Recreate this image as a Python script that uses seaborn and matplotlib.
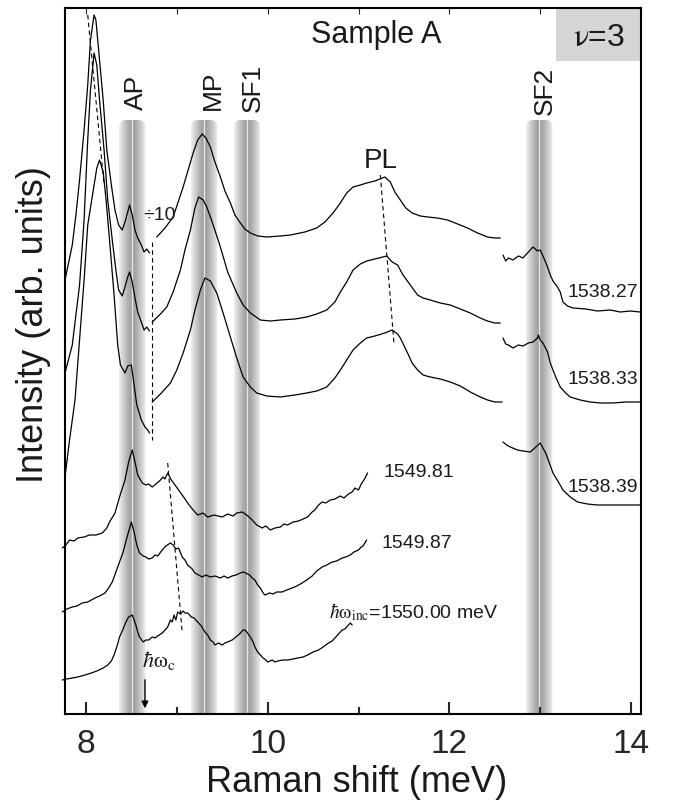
import numpy as np
import matplotlib
matplotlib.use("Agg")
import matplotlib.pyplot as plt
from matplotlib.patches import FancyBboxPatch, Rectangle
import seaborn as sns

# ── data: x = Raman shift (meV), y = intensity (arb. units, traces offset) ──

# resonant spectra (1538.xx meV): laser tail, MP/PL part (divided by 10), SF2 part
S1_LASER_X = [7.77, 7.85, 7.89, 7.93, 7.98, 8.02, 8.05, 8.09, 8.11, 8.14, 8.19, 8.23, 8.28, 8.32,
              8.36, 8.40, 8.43, 8.46, 8.48, 8.51, 8.54, 8.57, 8.61, 8.64, 8.67, 8.70]
S1_LASER_Y = [43.4, 46.9, 49.9, 53.4, 58.4, 62.9, 67.4, 69.9, 69.4, 66.4, 61.4, 56.4, 52.9, 50.4,
              48.9, 48.4, 49.2, 50.2, 50.9, 49.9, 48.4, 47.6, 46.9, 46.2, 46.5, 46.1]
S2_LASER_X = [7.77, 7.85, 7.89, 7.93, 7.98, 8.02, 8.05, 8.09, 8.12, 8.15, 8.20, 8.24, 8.29, 8.33,
              8.36, 8.40, 8.43, 8.46, 8.48, 8.51, 8.54, 8.57, 8.61, 8.64, 8.67, 8.70]
S2_LASER_Y = [34.1, 36.9, 39.9, 42.9, 49.4, 57.4, 62.4, 66.1, 64.9, 61.4, 56.4, 51.4, 47.4, 44.4,
              42.4, 41.8, 42.7, 43.7, 44.2, 43.2, 41.6, 40.2, 39.2, 38.4, 38.7, 38.3]
S3_LASER_X = [7.77, 7.82, 7.88, 7.93, 7.98, 8.02, 8.09, 8.12, 8.15, 8.19, 8.22, 8.26, 8.31, 8.35,
              8.38, 8.43, 8.46, 8.50, 8.53, 8.56, 8.61, 8.65, 8.68, 8.70]
S3_LASER_Y = [23.7, 27.4, 31.4, 37.4, 43.4, 48.9, 52.9, 54.6, 55.4, 54.2, 51.6, 47.4, 41.9, 36.9,
              34.9, 34.1, 34.8, 34.9, 32.9, 30.9, 29.4, 28.7, 28.4, 28.1]

S1_MID_X = [8.78, 8.87, 8.96, 9.07, 9.18, 9.23, 9.28, 9.32, 9.37, 9.42, 9.48, 9.53, 9.59, 9.64,
            9.70, 9.75, 9.81, 9.89, 9.99, 10.14, 10.25, 10.41, 10.54, 10.63, 10.72, 10.80, 10.87,
            10.94, 11.02, 11.09, 11.18, 11.29, 11.35, 11.40, 11.46, 11.52, 11.59, 11.68, 11.76,
            11.87, 11.98, 12.09, 12.20, 12.31, 12.42, 12.50, 12.56]
S1_MID_Y = [47.7, 48.6, 49.7, 52.7, 56.1, 57.4, 58.0, 57.6, 56.7, 55.2, 53.7, 52.3, 51.1, 49.9,
            49.1, 48.5, 48.1, 47.8, 47.7, 47.8, 47.9, 48.2, 48.6, 49.2, 50.1, 51.1, 52.1,
            52.7, 52.9, 53.1, 53.3, 53.7, 53.2, 52.2, 51.4, 50.6, 50.1, 49.8, 49.7,
            49.6, 49.4, 49.0, 48.6, 48.1, 47.7, 47.6, 47.6]
S2_MID_X = [8.73, 8.81, 8.89, 8.96, 9.04, 9.09, 9.15, 9.20, 9.24, 9.29, 9.33, 9.39, 9.48, 9.56,
            9.66, 9.73, 9.81, 9.92, 10.03, 10.14, 10.30, 10.43, 10.54, 10.65, 10.74, 10.80, 10.87,
            10.94, 11.02, 11.09, 11.18, 11.31, 11.37, 11.43, 11.49, 11.57, 11.65, 11.71, 11.79,
            11.90, 12.01, 12.12, 12.23, 12.34, 12.42, 12.50, 12.56]
S2_MID_Y = [39.2, 39.9, 40.7, 42.2, 44.4, 46.4, 48.4, 50.6, 51.7, 51.4, 50.7, 49.2, 46.7, 44.2,
            42.1, 40.9, 40.1, 39.4, 39.3, 39.4, 39.5, 39.7, 40.0, 40.4, 41.2, 42.2, 43.2,
            44.4, 45.0, 45.3, 45.5, 45.8, 45.2, 44.9, 43.9, 42.9, 41.9, 41.6, 41.4,
            41.1, 40.9, 40.5, 40.1, 39.6, 39.3, 39.1, 39.1]
S3_MID_X = [8.73, 8.81, 8.93, 9.00, 9.07, 9.15, 9.20, 9.26, 9.31, 9.37, 9.44, 9.51, 9.59, 9.66,
            9.73, 9.81, 9.88, 9.99, 10.14, 10.30, 10.43, 10.54, 10.65, 10.74, 10.80, 10.87, 10.94,
            11.02, 11.09, 11.18, 11.29, 11.37, 11.43, 11.46, 11.54, 11.59, 11.65, 11.71, 11.79,
            11.90, 12.01, 12.12, 12.23, 12.34, 12.42, 12.50, 12.58]
S3_MID_Y = [31.2, 31.9, 33.1, 34.4, 36.1, 38.4, 40.4, 42.4, 43.6, 43.3, 42.1, 40.1, 37.7, 35.6,
            33.7, 32.7, 32.1, 31.8, 31.7, 31.9, 32.1, 32.3, 32.7, 33.6, 34.4, 35.4, 36.4,
            37.1, 37.6, 37.8, 38.1, 38.4, 38.0, 37.6, 36.1, 35.1, 34.4, 33.9, 33.7,
            33.5, 33.2, 32.8, 32.2, 31.7, 31.4, 31.2, 31.2]

S1_SF2_X = [12.59, 12.62, 12.65, 12.70, 12.76, 12.81, 12.87, 12.92, 12.97, 13.00, 13.04, 13.08,
            13.11, 13.14, 13.19, 13.22, 13.25, 13.30, 13.36, 13.50, 13.63, 13.77, 13.88, 13.99, 14.10]
S1_SF2_Y = [45.9, 45.3, 45.6, 45.4, 45.8, 45.6, 46.2, 46.7, 46.3, 46.4, 45.6, 44.7,
            43.9, 43.3, 42.7, 42.2, 41.2, 40.8, 40.6, 40.5, 40.3, 40.4, 40.2, 40.3, 40.2]
S2_SF2_X = [12.59, 12.62, 12.65, 12.70, 12.76, 12.81, 12.87, 12.92, 12.97, 12.98, 13.00, 13.03,
            13.08, 13.11, 13.17, 13.22, 13.28, 13.33, 13.44, 13.55, 13.66, 13.80, 13.94, 14.10]
S2_SF2_Y = [37.6, 37.0, 36.9, 36.6, 36.9, 36.8, 37.1, 37.2, 37.6, 37.9, 37.4, 37.1,
            36.2, 35.1, 33.7, 32.7, 32.1, 31.7, 31.4, 31.2, 31.1, 31.1, 31.2, 31.2]
S3_SF2_X = [12.59, 12.63, 12.67, 12.75, 12.81, 12.89, 12.94, 13.00, 13.03, 13.06, 13.10, 13.14,
            13.20, 13.25, 13.33, 13.41, 13.52, 13.63, 13.77, 13.94, 14.10]
S3_SF2_Y = [27.2, 26.9, 26.7, 26.4, 26.3, 26.2, 26.6, 27.1, 26.6, 26.1, 25.1, 24.1,
            23.2, 22.4, 21.7, 21.2, 21.0, 20.9, 20.9, 20.9, 20.9]

# non-resonant spectra (1549.81, 1549.87, 1550.00 meV)
S4_X = [7.74, 7.78, 7.82, 7.87, 7.91, 7.98, 8.04, 8.11, 8.18, 8.23,
        8.26, 8.32, 8.37, 8.43, 8.47, 8.51, 8.54, 8.57, 8.62, 8.66,
        8.69, 8.73, 8.77, 8.81, 8.85, 8.87, 8.90, 8.94, 8.98, 9.02,
        9.06, 9.12, 9.18, 9.23, 9.29, 9.34, 9.41, 9.50, 9.56, 9.62,
        9.66, 9.72, 9.77, 9.83, 9.88, 9.94, 9.98, 10.03, 10.08, 10.14,
        10.18, 10.22, 10.28, 10.34, 10.39, 10.44, 10.49, 10.52, 10.56, 10.60,
        10.64, 10.69, 10.74, 10.80, 10.84, 10.89, 10.93, 10.96, 11.00, 11.03,
        11.06, 11.10]
S4_Y = [16.6, 16.9, 17.4, 17.3, 17.6, 17.7, 17.9, 17.9, 18.1, 18.6,
        19.2, 20.1, 21.7, 23.4, 25.2, 26.4, 25.2, 23.9, 23.1, 22.9,
        23.0, 22.7, 23.0, 23.3, 23.7, 23.5, 24.1, 23.4, 22.9, 22.4,
        21.9, 21.1, 20.4, 19.9, 20.1, 19.7, 19.9, 19.7, 20.0, 19.8,
        20.1, 20.2, 19.9, 19.4, 18.9, 18.6, 18.8, 18.4, 18.6, 18.7,
        19.0, 18.9, 19.2, 19.3, 19.5, 19.7, 20.2, 20.4, 20.9, 21.2,
        21.1, 21.4, 21.5, 21.8, 21.6, 22.0, 22.2, 22.6, 22.4, 23.0,
        23.4, 24.1]
S5_X = [7.74, 7.79, 7.85, 7.90, 7.96, 8.02, 8.10, 8.15, 8.21, 8.25,
        8.29, 8.35, 8.41, 8.45, 8.50, 8.53, 8.56, 8.59, 8.63, 8.66,
        8.69, 8.73, 8.76, 8.79, 8.84, 8.88, 8.93, 8.96, 8.99, 9.02,
        9.06, 9.09, 9.12, 9.17, 9.20, 9.24, 9.28, 9.32, 9.37, 9.42,
        9.48, 9.52, 9.56, 9.61, 9.65, 9.70, 9.73, 9.76, 9.80, 9.83,
        9.86, 9.89, 9.92, 9.95, 9.97, 10.02, 10.06, 10.10, 10.16, 10.21,
        10.27, 10.32, 10.38, 10.43, 10.49, 10.54, 10.60, 10.65, 10.71, 10.76,
        10.82, 10.86, 10.91, 10.95, 11.00, 11.03, 11.05, 11.07, 11.09]
S5_Y = [10.2, 10.5, 10.7, 10.8, 11.1, 11.2, 11.6, 11.8, 12.1, 12.6,
        13.2, 14.7, 16.2, 17.6, 19.2, 18.2, 16.9, 16.1, 15.8, 15.7,
        15.5, 15.6, 15.9, 15.8, 16.4, 16.8, 17.1, 16.9, 16.5, 16.6,
        15.7, 15.4, 14.9, 14.5, 14.1, 13.9, 13.7, 13.9, 13.7, 13.8,
        13.6, 13.8, 13.6, 13.8, 13.9, 14.1, 14.2, 14.1, 13.9, 13.6,
        13.4, 12.9, 12.6, 12.1, 11.9, 12.1, 12.0, 12.2, 12.2, 12.4,
        12.6, 12.8, 13.1, 13.4, 13.8, 14.3, 14.7, 14.9, 15.2, 15.3,
        15.6, 15.7, 15.9, 16.2, 16.4, 16.7, 16.8, 17.1, 17.4]
S6_X = [7.74, 7.79, 7.85, 7.91, 7.99, 8.06, 8.12, 8.19, 8.24, 8.28,
        8.31, 8.34, 8.37, 8.41, 8.44, 8.47, 8.51, 8.53, 8.55, 8.57,
        8.59, 8.63, 8.66, 8.69, 8.73, 8.76, 8.79, 8.84, 8.87, 8.90,
        8.93, 8.95, 8.97, 8.99, 9.01, 9.04, 9.07, 9.09, 9.12, 9.16,
        9.19, 9.23, 9.27, 9.31, 9.34, 9.37, 9.40, 9.42, 9.46, 9.50,
        9.53, 9.56, 9.61, 9.65, 9.69, 9.71, 9.73, 9.75, 9.77, 9.81,
        9.84, 9.86, 9.89, 9.93, 9.95, 9.98, 10.00, 10.05, 10.08, 10.11,
        10.17, 10.22, 10.28, 10.33, 10.39, 10.44, 10.50, 10.56, 10.61, 10.67,
        10.71, 10.74, 10.78, 10.82, 10.85, 10.87, 10.91, 10.93]
S6_Y = [3.4, 3.5, 3.6, 3.7, 3.9, 4.1, 4.3, 4.6, 4.9, 5.3,
        5.9, 6.7, 7.7, 8.5, 9.2, 9.7, 9.9, 9.4, 8.9, 8.2,
        7.7, 7.2, 7.4, 7.4, 7.7, 7.6, 7.8, 8.1, 8.4, 8.7,
        9.4, 9.2, 9.9, 9.4, 10.2, 10.0, 10.3, 10.1, 10.1, 9.7,
        9.6, 9.2, 8.8, 8.2, 7.9, 7.4, 7.2, 6.9, 7.1, 6.9,
        7.1, 7.2, 7.4, 7.7, 8.0, 8.2, 8.4, 8.4, 8.2, 7.7,
        7.2, 6.7, 6.2, 5.8, 5.6, 5.4, 5.2, 5.4, 5.2, 5.3,
        5.4, 5.4, 5.5, 5.6, 5.7, 5.9, 6.2, 6.4, 6.7, 7.1,
        7.3, 7.6, 8.0, 8.4, 8.5, 8.7, 9.1, 8.9]

# peak-position guides (dashed)
GUIDE_LASER = ([8.02, 8.20], [69.9, 52.9])
GUIDE_CUT = ([8.73, 8.73], [47.2, 27.4])
GUIDE_PL = ([11.24, 11.39], [53.9, 37.1])
GUIDE_LOW = ([8.90, 9.06], [25.1, 8.1])

# mode positions
BAND_CENTERS = [8.51, 9.30, 9.77, 12.99]
BAND_LABELS = ["AP", "MP", "SF1", "SF2"]

UPPER_LABELS = ["1538.27", "1538.33", "1538.39"]
LOWER_LABELS = ["1549.81", "1549.87"]

# ── style ──
sns.set_theme(style="white")
plt.rcParams["font.family"] = ["Liberation Sans", "DejaVu Sans"]
plt.rcParams["mathtext.fontset"] = "stix"

fig = plt.figure(figsize=(6.73, 8.0), dpi=100)
ax = fig.add_axes([0.0966, 0.1075, 0.856, 0.8825])

BAND_W = 0.29
BAND_TOP = 59.4


def draw_band(ax, center):
    t = np.linspace(-1, 1, 121)
    shade = 0.60 + 0.34 * np.abs(t) ** 1.2
    shade[np.abs(t) < 0.04] = 0.97
    img = np.tile(shade, (2, 1))
    im = ax.imshow(img, extent=[center - BAND_W / 2, center + BAND_W / 2, 0, BAND_TOP],
                   cmap="gray", vmin=0, vmax=1, aspect="auto",
                   interpolation="bilinear", zorder=0)
    clip = FancyBboxPatch((center - BAND_W / 2, -5), BAND_W, BAND_TOP + 5,
                          boxstyle="round,pad=0,rounding_size=0.075",
                          mutation_aspect=9.1, facecolor="none", edgecolor="none",
                          transform=ax.transData)
    ax.add_patch(clip)
    im.set_clip_path(clip)


for c in BAND_CENTERS:
    draw_band(ax, c)

# traces
segments = [
    (S1_LASER_X, S1_LASER_Y), (S2_LASER_X, S2_LASER_Y), (S3_LASER_X, S3_LASER_Y),
    (S1_MID_X, S1_MID_Y), (S2_MID_X, S2_MID_Y), (S3_MID_X, S3_MID_Y),
    (S1_SF2_X, S1_SF2_Y), (S2_SF2_X, S2_SF2_Y), (S3_SF2_X, S3_SF2_Y),
    (S4_X, S4_Y), (S5_X, S5_Y), (S6_X, S6_Y),
]
for xs, ys in segments:
    sns.lineplot(x=xs, y=ys, sort=False, estimator=None, color="black",
                 lw=0.9, ax=ax, clip_on=False, zorder=3)

for xs, ys in [GUIDE_LASER, GUIDE_CUT, GUIDE_PL, GUIDE_LOW]:
    ax.plot(xs, ys, color="black", lw=0.8, ls=(0, (4, 3)), zorder=3)

# labels of the modes
band_label_x = [8.55, 9.40, 9.84, 13.05]
band_label_y = [60.4, 60.4, 60.2, 59.9]
for lab, x, y in zip(BAND_LABELS, band_label_x, band_label_y):
    ax.text(x, y, lab, rotation=90, ha="center", va="bottom", fontsize=19, color="#1a1a1a")

ax.text(11.24, 54.6, "PL", ha="center", va="baseline", fontsize=20, color="#1a1a1a")
ax.text(11.19, 67.1, "Sample A", ha="center", va="baseline", fontsize=22, color="#1a1a1a")
ax.text(8.63, 49.8, "÷10", ha="left", va="center", fontsize=14, color="#1a1a1a")

# nu = 3 box
ax.add_patch(Rectangle((13.17, 65.3), 1.0, 6.0, facecolor="#d5d5d5", edgecolor="none", zorder=1))
ax.text(13.64, 67.6, r"$\mathrm{\nu}$=3", ha="center", va="center", fontsize=23,
        color="#1a1a1a", zorder=4)

# excitation energies
for lab, y in zip(UPPER_LABELS, [42.1, 33.4, 22.7]):
    ax.text(13.30, y, lab, ha="left", va="center", fontsize=14, color="#1a1a1a", zorder=4)
for lab, x, y in zip(LOWER_LABELS, [11.27, 11.25], [24.1, 17.1]):
    ax.text(x, y, lab, ha="left", va="center", fontsize=14, color="#1a1a1a")
ax.text(10.67, 10.2, r"$\hbar\mathrm{\omega}_{\mathrm{inc}}$=1550.00 meV", ha="left",
        va="center", fontsize=14, color="#1a1a1a")

# cyclotron energy marker
ax.text(8.62, 5.4, r"$\hbar\mathrm{\omega}_{\mathrm{c}}$", ha="left", va="center",
        fontsize=16, color="#1a1a1a")
ax.annotate("", xy=(8.65, 0.3), xytext=(8.65, 3.7),
            arrowprops=dict(arrowstyle="-|>", color="black", lw=1.0, mutation_scale=10))

# axes
ax.set_xlim(7.77, 14.11)
ax.set_ylim(0, 70.6)
ax.set_xticks([8, 10, 12, 14])
ax.set_xticks([9, 11, 13], minor=True)
ax.set_yticks([])
ax.tick_params(axis="x", which="major", direction="in", length=9, width=1.5,
               labelsize=24, pad=11, bottom=True, top=False)
ax.tick_params(axis="x", which="minor", direction="in", length=5, width=1.5,
               bottom=True, top=False)
top = ax.secondary_xaxis("top")
top.set_xticks([8, 9, 10, 11, 12, 13, 14])
top.tick_params(direction="in", length=4, width=0.8, labeltop=False)
top.spines["top"].set_visible(False)
for s in ax.spines.values():
    s.set_linewidth(1.5)
    s.set_color("black")

ax.set_xlabel("Raman shift (meV)", fontsize=26, color="#1a1a1a")
ax.xaxis.set_label_coords(0.507, -0.072)
ax.set_ylabel("Intensity (arb. units)", fontsize=26, color="#1a1a1a")
ax.yaxis.set_label_coords(-0.024, 0.552)

fig.savefig("out.png", dpi=100)
